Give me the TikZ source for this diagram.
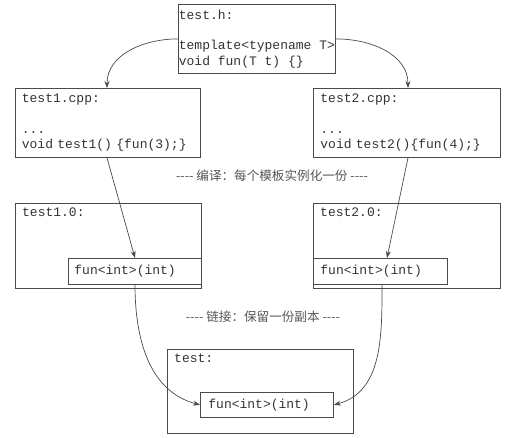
\documentclass[tikz,border=0pt]{standalone}
\usepackage{fontspec}
\setmonofont{Liberation Mono}
\newfontfamily\cjk{Noto Sans CJK SC}
\usepackage{tikz}
\usetikzlibrary{arrows.meta,positioning}
\definecolor{boxgray}{HTML}{4A4A4A}
\definecolor{txtgray}{HTML}{333333}
\definecolor{capgray}{HTML}{555555}

\begin{document}
\begin{tikzpicture}[x=1pt, y=-1pt,
		box/.style={draw=boxgray, line width=0.8pt, anchor=north west, inner sep=0pt,
			text=txtgray, font=\ttfamily\fontsize{13}{15.3}\selectfont, align=left},
		code/.style={text=txtgray, font=\ttfamily\fontsize{13}{15.3}\selectfont,
			inner sep=0pt, anchor=base west},
		caption/.style={text=capgray, font=\cjk\fontsize{12.6}{14}\selectfont},
		link/.style={draw=boxgray, line width=0.7pt, -{Stealth[length=7pt,width=5pt]}}]
	\useasboundingbox (0,0) rectangle (515,438);

	% sources
	\node[box, minimum width=157pt, minimum height=69pt] (hdr) at (178,4)
		{test.h:\\[15.3pt]template<typename T>\\void fun(T t) \{\}};
	\node[box, text width=172pt, inner xsep=6.5pt, minimum height=69pt] (cpp1) at (15,88)
		{test1.cpp:\\[15.3pt]...\\void test1() \{fun(3);\}};
	\node[box, text width=173pt, inner xsep=7pt, minimum height=69pt] (cpp2) at (313,88)
		{test2.cpp:\\[15.3pt]...\\void test2()\{fun(4);\}};

	\node[caption] (cap1) at (272,176) {---- 编译：每个模板实例化一份 ----};

	% objects
	\node[box, minimum width=186pt, minimum height=85pt] (obj1) at (15,203) {};
	\node[code] (obj1txt) at ([xshift=7pt,yshift=-14pt]obj1.north west) {test1.0:};
	\node[box, text width=121pt, inner xsep=6pt, minimum height=26pt] (fun1) at (68,258) {fun<int>(int)};

	\node[box, minimum width=187pt, minimum height=85pt] (obj2) at (313,203) {};
	\node[code] (obj2txt) at ([xshift=7pt,yshift=-14pt]obj2.north west) {test2.0:};
	\node[box, text width=120pt, inner xsep=7pt, minimum height=26pt] (fun2) at (313,258) {fun<int>(int)};

	\node[caption] (cap2) at (263,317) {---- 链接：保留一份副本 ----};

	% linked
	\node[box, minimum width=186pt, minimum height=84pt] (exe) at (167,349) {};
	\node[code] (exetxt) at ([xshift=7pt,yshift=-14pt]exe.north west) {test:};
	\node[box, text width=117pt, inner xsep=8pt, minimum height=25pt] (funx) at (200,392) {fun<int>(int)};

	\draw[link] (hdr.west) to[out=180, in=90] ([xshift=92pt]cpp1.north west);
	\draw[link] (hdr.east) to[out=0, in=90] ([xshift=95pt]cpp2.north west);
	\draw[link] ([xshift=92pt]cpp1.south west) -- ([xshift=67pt]fun1.north west);
	\draw[link] ([xshift=95pt]cpp2.south west) -- ([xshift=74pt]fun2.north west);
	\draw[link] ([xshift=67pt]fun1.south west) to[out=-90, in=165] (funx.west);
	\draw[link] ([xshift=69pt]fun2.south west) to[out=-90, in=15] (funx.east);
\end{tikzpicture}
\end{document}
